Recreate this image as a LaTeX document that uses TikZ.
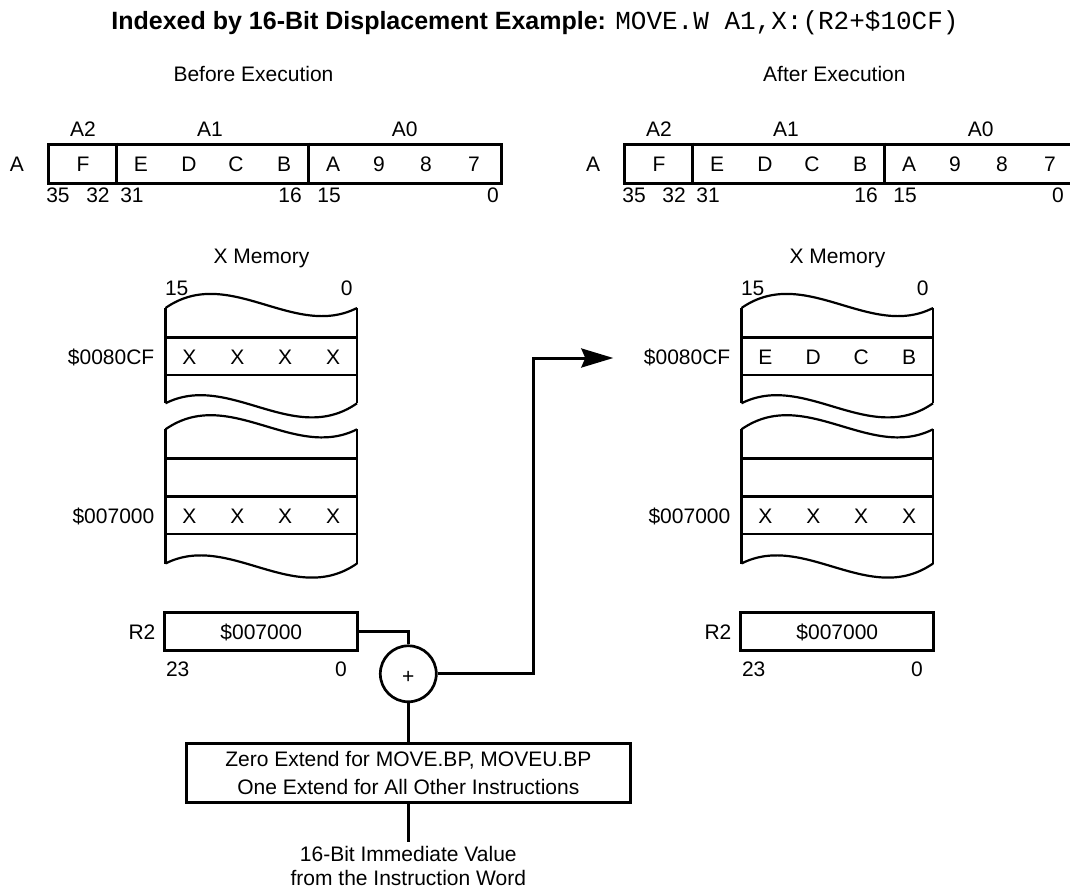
\documentclass[tikz,border=0pt]{standalone}
\usepackage{fontspec}
\setmainfont{Liberation Sans}
\newfontfamily\monof{Liberation Mono}
\usetikzlibrary{arrows.meta}
\begin{document}
\begin{tikzpicture}[x=1pt,y=-1pt,
  lbl/.style={font=\fontsize{21}{25}\selectfont, inner sep=0pt},
  lb/.style={lbl, anchor=base},
  regbox/.style={draw, line width=3pt, inner sep=0pt},
  valbox/.style={draw, line width=3pt, inner sep=0pt, font=\fontsize{21}{25}\selectfont, text height=15.2pt, text depth=0pt},
  extbox/.style={draw, line width=3pt, inner sep=0pt, align=center, font=\fontsize{21}{27.5}\selectfont},
  adder/.style={draw, circle, line width=2.7pt, minimum size=56pt, inner sep=0pt},
  wire/.style={line width=3pt},
  memwave/.style={line width=2.2pt},
  memline/.style={line width=2.8pt},
]
\useasboundingbox (0,0) rectangle (1070,890);

% title
\node[anchor=base, inner sep=0pt] (title) at (535,30)
  {\fontsize{25}{30}\selectfont\bfseries Indexed by 16-Bit Displacement Example: {\monof\mdseries\fontsize{26}{30}\selectfont MOVE.W A1,X:(R2+\$10CF)}};
\node[lb, anchor=base west] (before) at (173.3,81.7) {Before Execution};
\node[lb, anchor=base west] (after) at (763,81.7) {After Execution};

% registers A
\foreach \dx/\s/\zr in {0/b/493, 576/a/482} {
  \node[regbox, minimum width=453.3pt, minimum height=39pt, anchor=north west] (reg\s) at ({46.7+\dx},142.7) {};
  \draw[wire] ({116+\dx},142.7) -- ({116+\dx},181.7);
  \draw[wire] ({308+\dx},142.7) -- ({308+\dx},181.7);
  \node[lb] (a2\s) at ({83+\dx},136.5) {A2};
  \node[lb] (a1\s) at ({210+\dx},136.5) {A1};
  \node[lb] (a0\s) at ({404.7+\dx},136.5) {A0};
  \node[lb] (an\s) at ({17+\dx},171.5) {A};
  \node[lb] (cf\s) at ({83+\dx},171.5) {F};
  \node[lb] (ce\s) at ({141+\dx},171.5) {E};
  \node[lb] (cd\s) at ({189+\dx},171.5) {D};
  \node[lb] (cc\s) at ({236+\dx},171.5) {C};
  \node[lb] (cb\s) at ({284+\dx},171.5) {B};
  \node[lb] (ca\s) at ({333+\dx},171.5) {A};
  \node[lb] (c9\s) at ({379+\dx},171.5) {9};
  \node[lb] (c8\s) at ({426+\dx},171.5) {8};
  \node[lb] (c7\s) at ({474+\dx},171.5) {7};
  \node[lb] (n35\s) at ({58+\dx},203) {35};
  \node[lb] (n32\s) at ({98+\dx},203) {32};
  \node[lb] (n31\s) at ({132+\dx},203) {31};
  \node[lb] (n16\s) at ({290+\dx},203) {16};
  \node[lb] (n15\s) at ({329+\dx},203) {15};
  \node[lb] (n0\s) at ({\zr+\dx},203) {0};
}

% X memory
\foreach \dx/\s/\ra/\rb/\rc/\rd in {0/b/X/X/X/X, 576/a/E/D/C/B} {
  \pgfmathsetmacro\L{165.5+\dx}
  \pgfmathsetmacro\R{357+\dx}
  \node[lb] (xm\s) at ({261.5+\dx},263.3) {X Memory};
  \node[lb] (m15\s) at ({176.7+\dx},296) {15};
  \node[lb] (m0\s) at ({346.7+\dx},296) {0};
  % section 1
  \draw[memwave] (\L,308) .. controls (\L+63.2,264) and (\L+128.3,340) .. (\R,308);
  \draw[memwave] (\L,403.3) .. controls (\L+63.2,371.3) and (\L+128.3,447.3) .. (\R,403.3);
  \draw[memline] (\L,308) -- (\L,403.3);
  \draw[memline] (\R,308) -- (\R,403.3);
  % section 2
  \draw[memwave] (\L,429.3) .. controls (\L+63.2,385.3) and (\L+128.3,461.3) .. (\R,429.3);
  \draw[memwave] (\L,563.5) .. controls (\L+63.2,531.5) and (\L+128.3,607.5) .. (\R,563.5);
  \draw[memline] (\L,429.3) -- (\L,563.5);
  \draw[memline] (\R,429.3) -- (\R,563.5);
  \foreach \yy in {337.7,375,458.3,496.5,534}
    \draw[memline] (\L,\yy) -- (\R,\yy);
  % rows
  \node[lb, anchor=base east] (ad1\s) at ({154.5+\dx},364) {\$0080CF};
  \node[lb, anchor=base east] (ad2\s) at ({154.5+\dx},523) {\$007000};
  \node[lb] (r1a\s) at ({189.4+\dx},364) {\ra};
  \node[lb] (r1b\s) at ({237.3+\dx},364) {\rb};
  \node[lb] (r1c\s) at ({285.2+\dx},364) {\rc};
  \node[lb] (r1d\s) at ({333+\dx},364) {\rd};
  \node[lb] (r2a\s) at ({189.4+\dx},523) {X};
  \node[lb] (r2b\s) at ({237.3+\dx},523) {X};
  \node[lb] (r2c\s) at ({285.2+\dx},523) {X};
  \node[lb] (r2d\s) at ({333+\dx},523) {X};
  % R2 register
  \node[valbox, minimum width=192.7pt, minimum height=38pt] (rtwo\s) at ({261.3+\dx},631.7) {\$007000};
  \node[lb] (rl\s) at ({142+\dx},639) {R2};
  \node[lb] (r23\s) at ({177.7+\dx},676) {23};
  \node[lb] (rz\s) at ({341+\dx},676) {0};
}

% adder and extension
\node[adder] (add) at (408.3,673.8) {};
\node[lbl] (plus) at (408.3,677) {+};
\node[extbox, minimum width=444.5pt, minimum height=59pt] (ext) at (408.3,772.8)
  {Zero Extend for MOVE.BP, MOVEU.BP\\One Extend for All Other Instructions};
\node[lbl, align=center, anchor=north, font=\fontsize{21}{24}\selectfont] (imm) at (408.3,846)
  {16-Bit Immediate Value\\from the Instruction Word};

\coordinate (bend) at (533.3,673.8);
\coordinate (tip) at (613.3,358);

\draw[wire] (rtwob.east) -| (add.north);
\draw[wire, -{Stealth[length=32pt, width=19pt, inset=4pt]}] (add.east) -- (bend) |- (tip);
\draw[wire] (add.south) -- (ext.north);
\draw[wire, shorten >=4.3pt] (ext.south) -- (imm.north);
\end{tikzpicture}
\end{document}
